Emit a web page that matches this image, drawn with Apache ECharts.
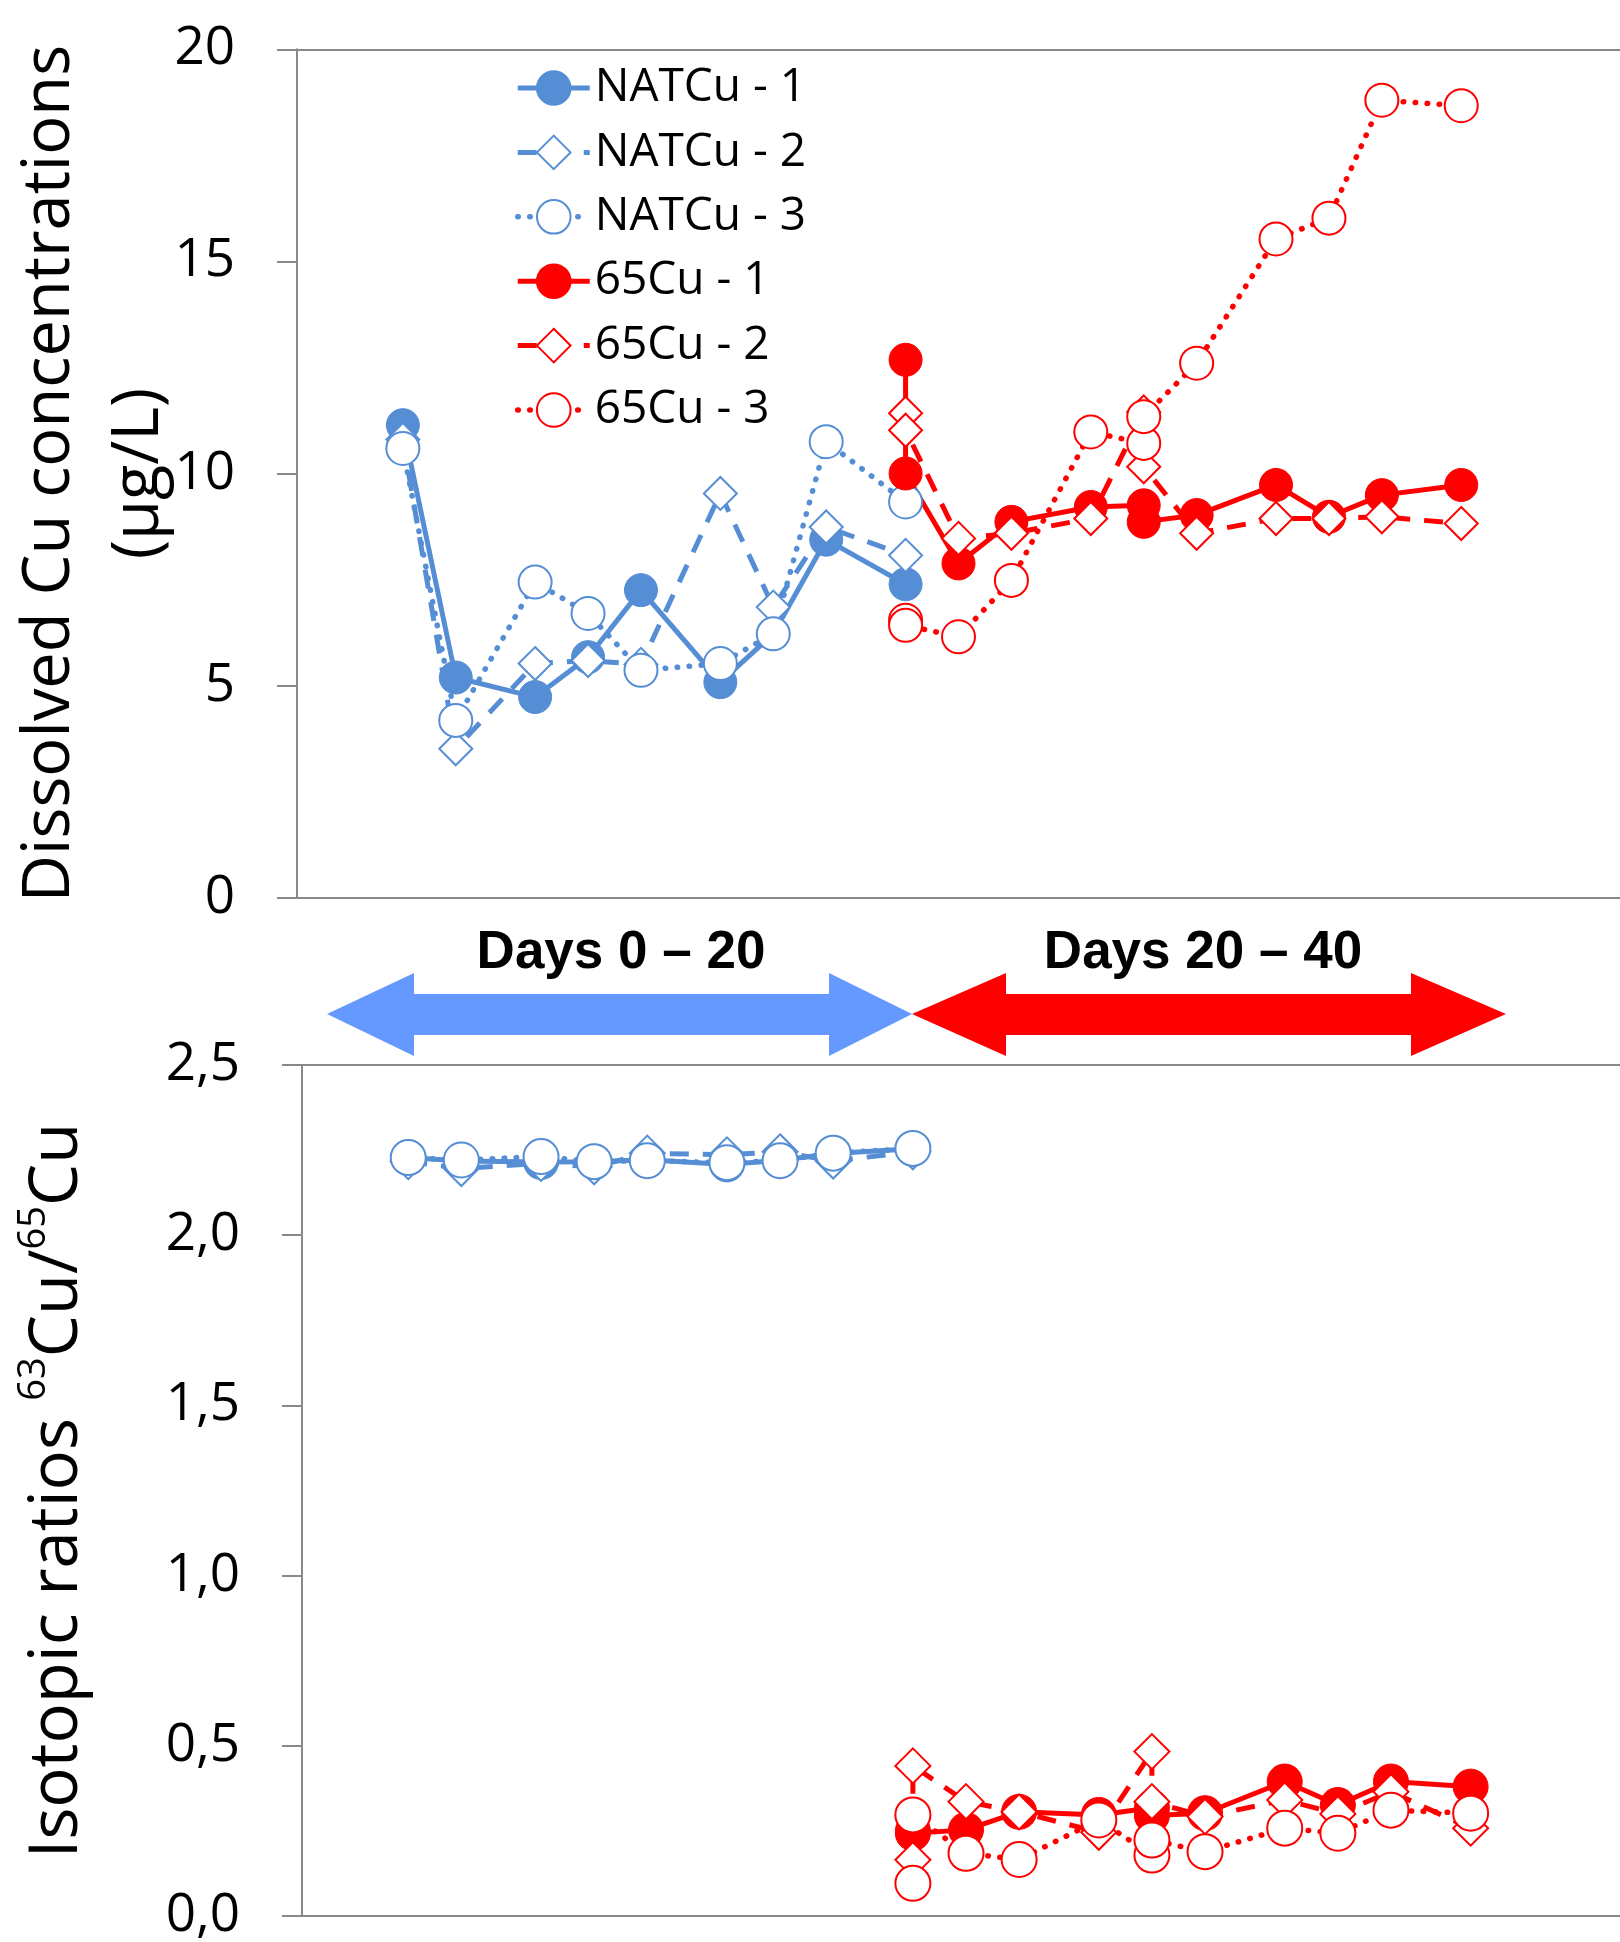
<!DOCTYPE html>
<html>
<head>
<meta charset="utf-8">
<script src="https://cdn.jsdelivr.net/npm/echarts@6/dist/echarts.min.js"></script>
<style>
  html, body { margin: 0; padding: 0; background: #ffffff; }
  #chart { width: 1620px; height: 1942px; }
</style>
</head>
<body>
<div id="chart"></div>
<script>
// Sampling days for each exposure phase (day 19/28 carry two samples: before / after renewal)
const natDays  = [0, 2, 5, 7, 9, 12, 14, 16, 19];
const cu65Days = [19, 19, 21, 23, 26, 28, 28, 30, 33, 35, 37, 40];

// Dissolved Cu concentrations (µg/L)
const natCu1Conc = [11.14, 5.19, 4.73, 5.67, 7.25, 5.08, 6.22, 8.44, 7.39];
const natCu2Conc = [10.80, 3.51, 5.52, 5.59, 5.50, 9.53, 6.85, 8.74, 8.07];
const natCu3Conc = [10.59, 4.18, 7.44, 6.70, 5.36, 5.52, 6.22, 10.75, 9.33];
const cu65_1Conc = [12.68, 10.00, 7.88, 8.86, 9.21, 9.25, 8.86, 9.02, 9.73, 8.98, 9.49, 9.73];
const cu65_2Conc = [11.42, 11.02, 8.47, 8.59, 8.94, 11.45, 10.16, 8.59, 8.94, 8.94, 8.98, 8.82];
const cu65_3Conc = [6.54, 6.42, 6.15, 7.48, 10.98, 10.71, 11.34, 12.60, 15.53, 16.02, 18.80, 18.67];

// Isotopic ratios 63Cu/65Cu
const natCu1Ratio = [2.228, 2.218, 2.215, 2.216, 2.222, 2.208, 2.220, 2.240, 2.254];
const natCu2Ratio = [2.216, 2.196, 2.211, 2.201, 2.241, 2.236, 2.245, 2.218, 2.245];
const natCu3Ratio = [2.228, 2.221, 2.231, 2.216, 2.219, 2.213, 2.219, 2.241, 2.255];
const cu65_1Ratio = [0.250, 0.243, 0.253, 0.306, 0.297, 0.318, 0.295, 0.302, 0.395, 0.326, 0.395, 0.380];
const cu65_2Ratio = [0.165, 0.441, 0.336, 0.306, 0.246, 0.483, 0.336, 0.292, 0.341, 0.300, 0.365, 0.258];
const cu65_3Ratio = [0.096, 0.297, 0.184, 0.166, 0.282, 0.179, 0.223, 0.189, 0.258, 0.243, 0.311, 0.302];

// Axis ticks
const concTicks  = [0, 5, 10, 15, 20];
const ratioTicks = [0, 0.5, 1.0, 1.5, 2.0, 2.5];

const seriesNames = ['NATCu - 1', 'NATCu - 2', 'NATCu - 3', '65Cu - 1', '65Cu - 2', '65Cu - 3'];
const phaseLabels = ['Days 0 \u2013 20', 'Days 20 \u2013 40'];

const BLUE = '#558ED5';
const RED = '#FF0000';
const AXIS_GREY = '#898989';
const FONT = '"Open Sans", "Noto Sans", sans-serif';
const LINE_W = 5;

const pairs = (xs, ys) => xs.map((x, i) => [x, ys[i]]);

// kind: 'solid' (filled circle), 'dash' (open diamond), 'dot' (open circle)
function makeSeries(name, panel, xs, ys, color, kind) {
  const size = panel === 0 ? 33 : 35;
  const lineStyle = { color: color, width: LINE_W, type: 'solid', cap: 'butt', join: 'round' };
  let symbol = 'circle';
  let itemStyle = { color: color, borderColor: color, borderWidth: 1 };
  if (kind === 'dash') {
    symbol = 'diamond';
    lineStyle.type = [19, 14];
    itemStyle = { color: '#ffffff', borderColor: color, borderWidth: 2 };
  } else if (kind === 'dot') {
    lineStyle.type = [0.5, 11.5];
    lineStyle.width = 5.5;
    lineStyle.cap = 'round';
    itemStyle = { color: '#ffffff', borderColor: color, borderWidth: 2 };
  }
  return {
    name: name,
    type: 'line',
    xAxisIndex: panel === 0 ? 0 : 2,
    yAxisIndex: panel,
    data: pairs(xs, ys),
    symbol: symbol,
    symbolSize: size,
    showSymbol: true,
    lineStyle: lineStyle,
    itemStyle: itemStyle,
    emphasis: { disabled: true },
    clip: false,
    animation: false
  };
}

const axisLineStyle = { show: true, onZero: false, lineStyle: { color: AXIS_GREY, width: 2 } };

function xAxisFor(gridIndex, position) {
  return {
    gridIndex: gridIndex,
    type: 'value',
    min: -4,
    max: 46,
    position: position,
    axisLine: axisLineStyle,
    axisTick: { show: false },
    axisLabel: { show: false },
    splitLine: { show: false }
  };
}

const chart = echarts.init(document.getElementById('chart'), null, { renderer: 'canvas' });

const option = {
  backgroundColor: '#ffffff',
  animation: false,
  grid: [
    { left: 297, top: 49.3, width: 1323, height: 848.4, outerBoundsMode: 'none', containLabel: false },
    { left: 302, top: 1065, width: 1328, height: 851, outerBoundsMode: 'none', containLabel: false }
  ],
  xAxis: [
    xAxisFor(0, 'bottom'),
    xAxisFor(0, 'top'),
    xAxisFor(1, 'bottom'),
    xAxisFor(1, 'top')
  ],
  yAxis: [
    {
      gridIndex: 0,
      type: 'value',
      position: 'left',
      min: concTicks[0],
      max: concTicks[concTicks.length - 1],
      interval: concTicks[1] - concTicks[0],
      axisLine: axisLineStyle,
      axisTick: { show: true, inside: false, length: 20, lineStyle: { color: AXIS_GREY, width: 2 } },
      axisLabel: { margin: 62, fontSize: 53, fontFamily: FONT, color: '#000000' },
      splitLine: { show: false },
      name: 'Dissolved Cu concentrations\n(\u00b5g/L)',
      nameLocation: 'middle',
      nameGap: 113,
      nameMoveOverlap: false,
      nameTextStyle: { fontSize: 65, fontFamily: FONT, color: '#000000', lineHeight: 89, align: 'center' }
    },
    {
      gridIndex: 1,
      type: 'value',
      position: 'left',
      min: ratioTicks[0],
      max: ratioTicks[ratioTicks.length - 1],
      interval: ratioTicks[1] - ratioTicks[0],
      axisLine: axisLineStyle,
      axisTick: { show: true, inside: false, length: 20, lineStyle: { color: AXIS_GREY, width: 2 } },
      axisLabel: {
        margin: 62, fontSize: 53, fontFamily: FONT, color: '#000000',
        formatter: v => v.toFixed(1).replace('.', ',')
      },
      splitLine: { show: false },
      name: '{a|Isotopic ratios }{s|63}{a|Cu/}{s|65}{a|Cu}',
      nameLocation: 'middle',
      nameGap: 211,
      nameMoveOverlap: false,
      nameTextStyle: {
        color: '#000000',
        rich: {
          a: { fontSize: 67, fontFamily: FONT, color: '#000000', lineHeight: 80, verticalAlign: 'bottom' },
          s: { fontSize: 38, fontFamily: FONT, color: '#000000', lineHeight: 80, verticalAlign: 'top', padding: [4, 0, 0, 0] }
        }
      }
    }
  ],
  legend: {
    data: seriesNames,
    orient: 'vertical',
    left: 515,
    top: 65,
    padding: 0,
    itemWidth: 72,
    itemHeight: 42,
    itemGap: 18.4,
    selectedMode: false,
    lineStyle: { width: 'inherit' },
    textStyle: { fontSize: 46, fontFamily: FONT, color: '#000000', lineHeight: 40 }
  },
  series: [
    makeSeries(seriesNames[0], 0, natDays, natCu1Conc, BLUE, 'solid'),
    makeSeries(seriesNames[1], 0, natDays, natCu2Conc, BLUE, 'dash'),
    makeSeries(seriesNames[2], 0, natDays, natCu3Conc, BLUE, 'dot'),
    makeSeries(seriesNames[3], 0, cu65Days, cu65_1Conc, RED, 'solid'),
    makeSeries(seriesNames[4], 0, cu65Days, cu65_2Conc, RED, 'dash'),
    makeSeries(seriesNames[5], 0, cu65Days, cu65_3Conc, RED, 'dot'),
    makeSeries(seriesNames[0], 1, natDays, natCu1Ratio, BLUE, 'solid'),
    makeSeries(seriesNames[1], 1, natDays, natCu2Ratio, BLUE, 'dash'),
    makeSeries(seriesNames[2], 1, natDays, natCu3Ratio, BLUE, 'dot'),
    makeSeries(seriesNames[3], 1, cu65Days, cu65_1Ratio, RED, 'solid'),
    makeSeries(seriesNames[4], 1, cu65Days, cu65_2Ratio, RED, 'dash'),
    makeSeries(seriesNames[5], 1, cu65Days, cu65_3Ratio, RED, 'dot')
  ],
  graphic: [
    // Phase arrows between the two panels
    {
      type: 'polygon',
      shape: { points: [[327, 1014], [414, 973], [414, 994], [829, 994], [829, 973], [912, 1014],
                        [829, 1056], [829, 1035], [414, 1035], [414, 1056]] },
      style: { fill: '#6699FF' },
      silent: true
    },
    {
      type: 'polygon',
      shape: { points: [[912, 1014], [1006, 973], [1006, 994], [1411, 994], [1411, 973], [1506, 1014],
                        [1411, 1056], [1411, 1035], [1006, 1035], [1006, 1056]] },
      style: { fill: '#FF0000' },
      silent: true
    },
    {
      type: 'text',
      x: 621, y: 953,
      silent: true,
      style: { text: phaseLabels[0], fill: '#000000', font: 'bold 53px "Liberation Sans", Arial, sans-serif',
               align: 'center', verticalAlign: 'middle' }
    },
    {
      type: 'text',
      x: 1203, y: 953,
      silent: true,
      style: { text: phaseLabels[1], fill: '#000000', font: 'bold 53px "Liberation Sans", Arial, sans-serif',
               align: 'center', verticalAlign: 'middle' }
    }
  ]
};

chart.setOption(option);
</script>
</body>
</html>
